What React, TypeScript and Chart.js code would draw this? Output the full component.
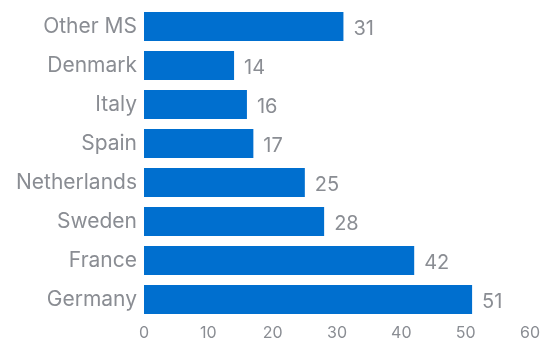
import React, { useEffect, useRef } from "react";
import { Chart, registerables } from "chart.js";

Chart.register(...registerables);

const categories = ["Other MS", "Denmark", "Italy", "Spain", "Netherlands", "Sweden", "France", "Germany"];
const values = [31, 14, 16, 17, 25, 28, 42, 51];
const xMin = 0;
const xMax = 60;
const xStep = 10;

const BAR = "#006FCF";
const TEXT = "#8A8D93";
const FONT = "Inter, 'Open Sans', sans-serif";

const valueLabels = {
  id: "valueLabels",
  afterDatasetsDraw(chart: any) {
    const ctx = chart.ctx;
    const meta = chart.getDatasetMeta(0);
    ctx.save();
    ctx.fillStyle = TEXT;
    ctx.font = "20px " + FONT;
    ctx.textAlign = "left";
    ctx.textBaseline = "middle";
    meta.data.forEach((el: any, i: number) => {
      ctx.fillText(String(values[i]), el.x + 10, el.y + 2);
    });
    ctx.restore();
  },
};

export default function App() {
  const ref = useRef<HTMLCanvasElement | null>(null);
  useEffect(() => {
    if (!ref.current) return;
    const chart = new Chart(ref.current, {
      type: "bar",
      data: {
        labels: categories,
        datasets: [
          {
            data: values,
            backgroundColor: BAR,
            barPercentage: 0.74,
            categoryPercentage: 1,
          },
        ],
      },
      options: {
        indexAxis: "y",
        animation: false,
        responsive: false,
        maintainAspectRatio: false,
        layout: { padding: { top: 7, right: 17, bottom: 0, left: 0 } },
        plugins: { legend: { display: false }, tooltip: { enabled: false } },
        scales: {
          x: {
            min: xMin,
            max: xMax,
            ticks: { stepSize: xStep, color: TEXT, font: { family: FONT, size: 16 }, padding: 5 },
            grid: { display: false, drawTicks: false },
            border: { display: false },
            afterFit: (s: any) => {
              s.height = 22;
              s.paddingLeft = 0;
              s.paddingRight = 0;
            },
          },
          y: {
            ticks: { color: TEXT, font: { family: FONT, size: 21 }, padding: 7 },
            grid: { display: false, drawTicks: false },
            border: { display: false },
            afterFit: (s: any) => {
              s.width = 144;
              s.paddingTop = 0;
              s.paddingBottom = 0;
            },
          },
        },
      },
      plugins: [valueLabels],
    });
    return () => chart.destroy();
  }, []);
  return (
    <div style={{ position: "fixed", left: 0, top: 0, width: 547, height: 341, background: "#fff" }}>
      <canvas ref={ref} width={547} height={341} style={{ width: 547, height: 341, display: "block" }} />
    </div>
  );
}
